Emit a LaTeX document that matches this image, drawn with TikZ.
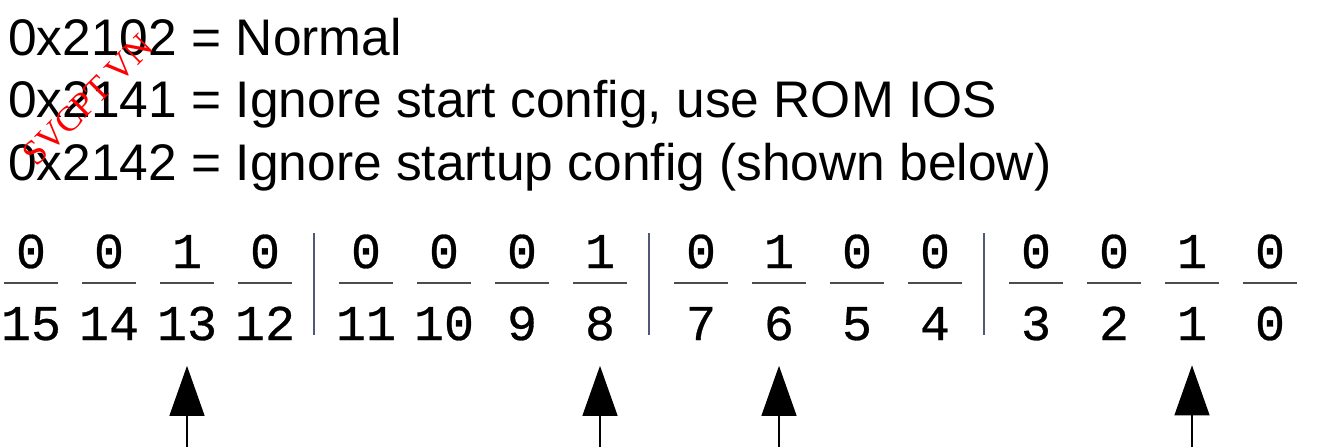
\documentclass[tikz,border=0pt]{standalone}
\usepackage{fontspec}
\setmainfont{Liberation Sans}
\newfontfamily\bitfont[FakeBold=0.6]{Liberation Mono}
\newfontfamily\markfont{Liberation Serif}
\usetikzlibrary{arrows.meta, positioning}

\definecolor{sepblue}{RGB}{80,88,120}

\begin{document}
\begin{tikzpicture}[
    x=0.02cm, y=-0.02cm,
    line/.style={
        anchor=base west, inner sep=0pt,
        font=\fontsize{29.3}{35}\selectfont
    },
    bitval/.style={
        anchor=base, inner sep=0pt,
        font=\bitfont\fontsize{28.5}{34}\selectfont
    },
    bar/.style={line width=0.8pt, black!70},
    sep/.style={line width=0.8pt, sepblue},
    pointer/.style={-{Triangle[length=1cm, width=0.7cm]}, line width=0.8pt, shorten >=0.5cm},
    stamp/.style={text=red, rotate=45, inner sep=0pt, font=\markfont\fontsize{20}{24}\selectfont},
]
\useasboundingbox (0,0) rectangle (1318,447);

% Register values
\node[line] (l1) at (8,55) {0x2102 = Normal};
\node[line] (l2) at (8,117) {0x2141 = Ignore start config, use ROM IOS};
\node[line] (l3) at (8,180) {0x2142 = Ignore startup config (shown below)};

\node[stamp] (mark) at (88,100) {SVCPT VN};

% Bits of 0x2142, bit 15 first
\foreach \v [count=\k from 0] in {0,0,1,0,0,0,0,1,0,1,0,0,0,0,1,0} {
    \pgfmathtruncatemacro\b{15-\k}
    \pgfmathsetmacro\px{31+335*int(\k/4)+78*mod(\k,4)}
    \node[bitval] (v\b) at (\px,268) {\v};
    \node[bitval] (n\b) at (\px,340) {\b};
    \draw[bar] (\px-27,283) -- (\px+27,283);
}

% Nibble separators
\foreach \g in {0,1,2}
    \draw[sep] (314+335*\g,233) -- (314+335*\g,335);

% Set bits
\coordinate (floor) at (0,447);
\foreach \b in {13,8,6,1} {
    \coordinate (p\b) at (n\b |- floor);
    \draw[pointer] (p\b) -- (n\b.south);
}

\end{tikzpicture}
\end{document}
